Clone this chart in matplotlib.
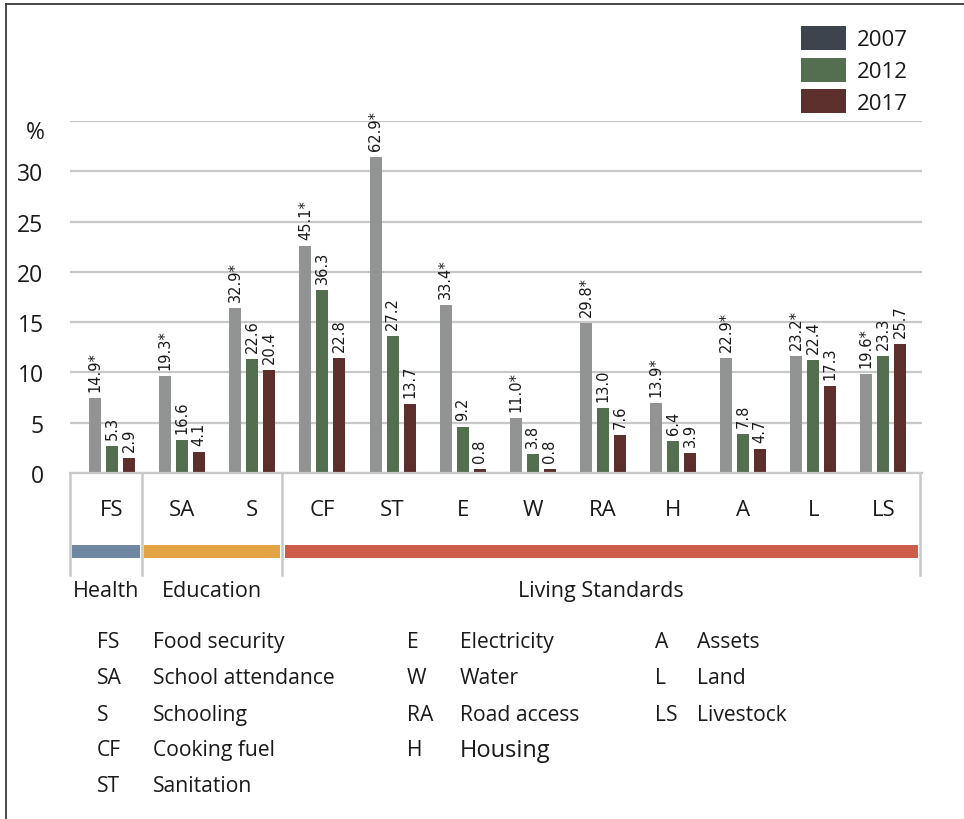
import numpy as np
import matplotlib
matplotlib.use("Agg")
import matplotlib.pyplot as plt
from matplotlib.patches import Rectangle
from matplotlib.ticker import FuncFormatter

# data
categories = ["FS", "SA", "S", "CF", "ST", "E", "W", "RA", "H", "A", "L", "LS"]
years = ["2007", "2012", "2017"]
v2007 = [14.9, 19.3, 32.9, 45.1, 62.9, 33.4, 11.0, 29.8, 13.9, 22.9, 23.2, 19.6]
v2012 = [5.3, 6.6, 22.6, 36.3, 27.2, 9.2, 3.8, 13.0, 6.4, 7.8, 22.4, 23.3]
v2017 = [2.9, 4.1, 20.4, 22.8, 13.7, 0.8, 0.8, 7.6, 3.9, 4.7, 17.3, 25.7]
starred = [True] * 12  # 2007 values marked with *
# the SA 2012 bar is labelled 16.6 in the source although it is drawn at 6.6
label_fix = {(1, 1): "16.6"}

groups = ["Health", "Education", "Living Standards"]
group_colors = ["#6f87a0", "#e4a444", "#cd5c4a"]
group_edges = [-0.6, 0.43, 2.43, 11.52]

glossary = [("FS", "Food security"), ("SA", "School attendance"), ("S", "Schooling"),
            ("CF", "Cooking fuel"), ("ST", "Sanitation"),
            ("E", "Electricity"), ("W", "Water"), ("RA", "Road access"), ("H", "Housing"),
            ("A", "Assets"), ("L", "Land"), ("LS", "Livestock")]
glossary_cols = [5, 4, 3]

bar_colors = ["#919493", "#546e50", "#5c2e2c"]
legend_colors = ["#3d444e", "#546e50", "#5c2e2c"]

plt.rcParams['font.family'] = ['Open Sans', 'DejaVu Sans']
ink = "#1a1a1a"

W, H = 964, 820
fig = plt.figure(figsize=(W / 100, H / 100), dpi=100)


def box(x0, y0, x1, y1):
    return [x0 / W, 1 - y1 / H, (x1 - x0) / W, (y1 - y0) / H]


# overlay in pixel coordinates for frame, legend and glossary
over = fig.add_axes([0, 0, 1, 1], zorder=-1)
over.set_xlim(0, W)
over.set_ylim(H, 0)
over.axis("off")
over.plot([6, 6], [5, H], color="#3a3a3a", lw=1.3)
over.plot([6, W], [5, 5], color="#3a3a3a", lw=1.3)

# main bar chart
ax = fig.add_axes(box(70, 122, 922, 474))
x = np.arange(len(categories))
pitch, width = 0.2425, 0.171
series = [v2007, v2012, v2017]
for i, vals in enumerate(series):
    xs = x + (i - 1) * pitch
    ax.bar(xs, vals, width=width, color=bar_colors[i], zorder=3)
    for j, (xx, v) in enumerate(zip(xs, vals)):
        lab = label_fix.get((j, i), f"{v:.1f}")
        if i == 0 and starred[j]:
            lab += "*"
        ax.annotate(lab, (xx, v), xytext=(0, 7), textcoords="offset pixels",
                    rotation=90, ha="center", va="bottom", fontsize=10.5,
                    family="DejaVu Sans", color=ink)

ax.set_xlim(-0.6, 11.55)
ax.set_ylim(0, 70)
ax.set_yticks(np.arange(0, 71, 10))
ax.yaxis.set_major_formatter(FuncFormatter(lambda v, p: "" if v >= 70 else f"{v / 2:.0f}"))
ax.tick_params(axis="y", length=0, pad=19, labelsize=16.5, labelcolor=ink)
ax.set_xticks([])
ax.grid(axis="y", color="#c8c8c8", lw=1.6, zorder=0)
for s in ["top", "right", "left"]:
    ax.spines[s].set_visible(False)
ax.spines["bottom"].set_color("#c8c8c8")
ax.spines["bottom"].set_linewidth(1.6)
ax.spines["bottom"].set_zorder(4)
over.text(45, 133, "%", ha="right", va="center", fontsize=16.5, color=ink)

# legend (2007 swatch differs from the bar colour in the source)
for k, (yr, col) in enumerate(zip(years, legend_colors)):
    y0 = 27 + k * 31.5
    over.add_patch(Rectangle((801, y0), 45, 24, color=col, lw=0))
    over.text(857, y0 + 14, yr, ha="left", va="center", fontsize=16, color=ink)

# category strip below the axis
ax2 = fig.add_axes(box(70, 474, 922, 610))
ax2.set_xlim(ax.get_xlim())
ax2.set_ylim(610, 474)
ax2.axis("off")
for e in group_edges:
    ax2.plot([e, e], [474, 576], color="#c8c8c8", lw=1.8, clip_on=False)
for k, c in enumerate(categories):
    ax2.text(k, 511, c, ha="center", va="center", fontsize=16, color=ink)
for g, col, a, b in zip(groups, group_colors, group_edges[:-1], group_edges[1:]):
    ax2.add_patch(Rectangle((a + 0.03, 546), b - a - 0.06, 13, color=col, lw=0))
    ax2.text((a + b) / 2, 592, g, ha="center", va="center", fontsize=15.5, color=ink)

# glossary
col_x = [(97, 153), (407, 460), (655, 697)]
row_y = [643, 679, 716, 751, 787]
idx = 0
for ci, n in enumerate(glossary_cols):
    for r in range(n):
        abbr, desc = glossary[idx]
        idx += 1
        fs = 17 if desc == "Housing" else 15.2
        over.text(col_x[ci][0], row_y[r], abbr, ha="left", va="center", fontsize=15.2, color=ink)
        over.text(col_x[ci][1], row_y[r], desc, ha="left", va="center", fontsize=fs, color=ink)

fig.savefig("out.png", dpi=100)
